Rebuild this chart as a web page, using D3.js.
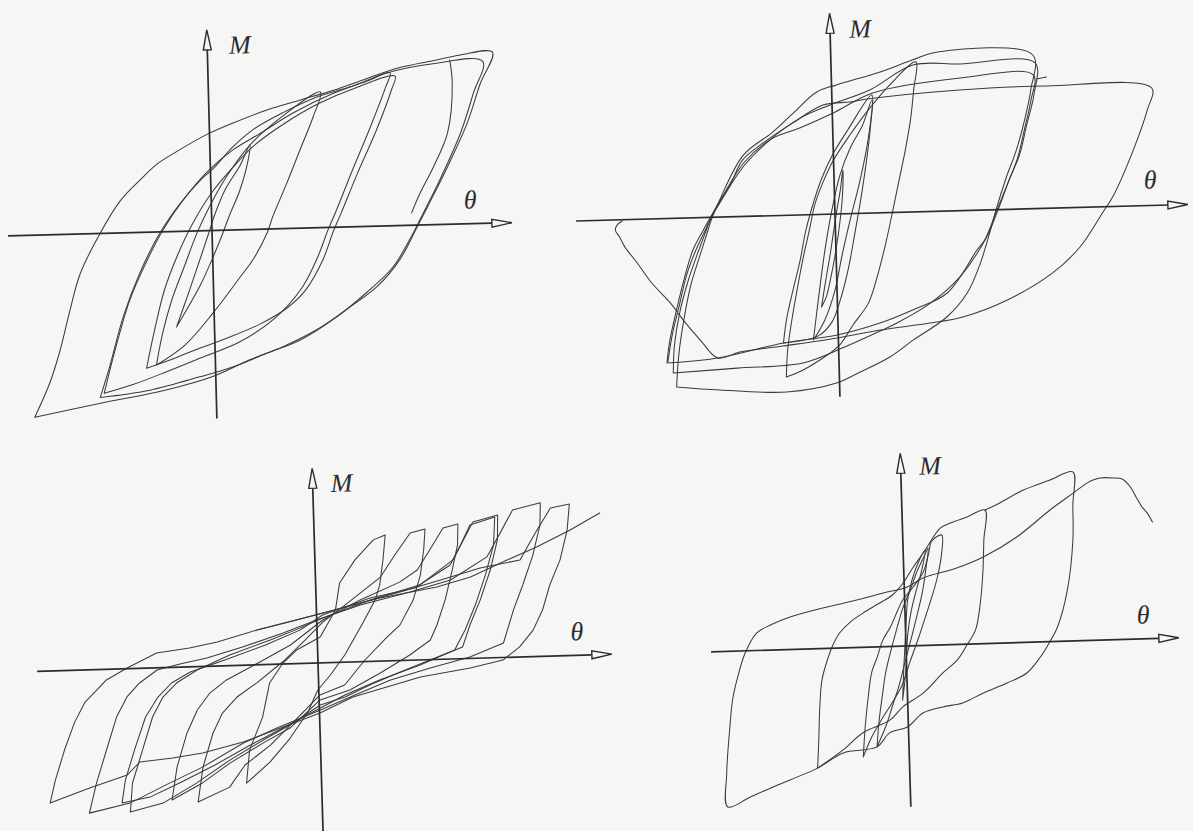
<!DOCTYPE html>
<html>
<head>
<meta charset="utf-8">
<script src="https://cdn.jsdelivr.net/npm/d3@7"></script>
<style>
  html, body { margin: 0; padding: 0; background: #f6f6f5; }
  svg { display: block; }
</style>
</head>
<body>
<svg id="chart" width="1193" height="831"></svg>
<script>
// Moment–rotation hysteresis records, four specimens.
// Each array is one loading branch or closed cycle: [theta, M] pairs.

// ---- Specimen 1 (upper left) ----
const s1CycleOuter = [[-18.2,-91],[-16.6,-74],[-15.5,-58],[-14.4,-38],[-13.3,-20],[-11.2,0],[-9.1,16],[-7.1,26],[-5.3,34],[-3.3,40],[-0.3,48],[2.4,53.5],[5.8,59.5],[9.1,64],[12.5,68.5],[15.9,74],[19.2,79],[22.5,82],[25.3,84.5],[28.5,85.5],[27.2,70],[25.8,50.5],[23.7,28.7],[21.6,9],[20.5,-1],[18.7,-17],[16.4,-30],[13.6,-40],[10.2,-51],[6.8,-59],[3.5,-65],[-0.3,-73],[-4.9,-79],[-11.7,-85],[-18.2,-91]];
const s1CycleB = [[-11.6,-82],[-10.6,-67],[-9.1,-42],[-7.3,-20],[-5.2,-0.5],[-3.1,14],[-1.1,25],[0.3,31],[2.3,41.5],[4.4,50],[7.4,58],[10.9,65.5],[14.2,70],[17.9,76.5],[22.5,80.5],[27.5,81],[26.5,65.5],[25.1,45.5],[22.9,22.3],[20.8,2.5],[20.1,-4],[18,-20.6],[15.3,-33],[11.9,-46],[8.5,-56],[5.2,-62],[1.7,-68.5],[-1.6,-73],[-6.6,-79],[-11.6,-82]];
const s1CycleC = [[-11.2,-80],[-10,-58.5],[-8.4,-33.7],[-6.8,-16.4],[-4.9,0.9],[-2.8,15.6],[-0.35,29.3],[2.3,40],[5.1,48],[8.4,57.7],[12.5,67],[15.9,72.7],[18.2,76.5],[17.7,69],[16.1,49.7],[14.2,28.4],[12.5,8.6],[11.6,-1.2],[10.5,-14.6],[8.9,-29.4],[6.1,-44.5],[2.5,-56],[-1.5,-63.6],[-4.9,-70],[-8.3,-76],[-11.2,-80]];
const s1CycleC2 = [[-6.9,-68],[-6,-49],[-4.9,-29],[-3.5,-11.8],[-2,3],[-0.1,17.8],[2.2,31],[4.5,42.2],[7.6,52.8],[11.1,62.3],[14.7,69.4],[18.7,74.8],[18.3,67.9],[16.7,48.1],[14.7,26.8],[13,7.5],[12.1,-2.3],[11,-16.2],[9.2,-31],[7.3,-39.7],[4.6,-47.3],[1.5,-53.5],[-1.5,-58.6],[-4,-63.2],[-6.9,-68]];
const s1CycleD = [[-5.9,-66.5],[-5.2,-50.6],[-4.2,-34.2],[-2.8,-16.9],[-1.5,-1],[-0.1,12.8],[1.7,27.5],[4,42.2],[7.1,55.3],[11.2,67.8],[10.4,55.4],[9,39.1],[7.6,22.7],[6.1,6],[5.5,-2],[4,-15.3],[2.7,-23.6],[-0.1,-41.2],[-3,-56.9],[-5.9,-66.5]];
const s1CycleE = [[-3.8,-47.8],[-2.4,-29.5],[-1.3,-14.6],[-0.4,-2.2],[0.3,7.7],[1.4,20.1],[3,32.4],[4,42.2],[3.8,34.8],[2.9,19.9],[1.8,7.5],[1,-2.4],[-0.1,-14.8],[-1.3,-27.1],[-3.8,-47.8]];
const s1Unload = [[24.2,82.2],[24.4,70.6],[23.8,45.7],[22.3,28.9],[20.9,16],[20,6.2]];

// ---- Specimen 2 (upper right) ----
const s2CycleA = [[-16.3,-84.3],[-16,-68.4],[-15.4,-51],[-14.6,-33.5],[-13.6,-18.7],[-12.9,-8.7],[-12.3,-0.3],[-11.5,8.5],[-9,30.7],[-6,41.8],[-3.9,51],[-1.5,61.2],[0.5,64.5],[4.9,70.4],[8.2,76],[10.7,79.6],[20.2,76.8],[19.9,59.3],[19.2,44.4],[18.3,29.5],[17.2,15.7],[16.1,-0.2],[15.5,-10.1],[14.4,-26.5],[13,-41.3],[10.9,-53],[7.5,-64],[5.1,-72.2],[2.1,-79.3],[-0.3,-84.5],[-5.3,-88.3],[-12,-86.4],[-16.3,-84.3]];
const s2CycleB = [[-16.6,-77.3],[-16.4,-63.3],[-15.8,-47.4],[-14.9,-32],[-13.9,-18.6],[-13.1,-8.7],[-12.4,-0.3],[-11,11],[-8.9,25.7],[-6.3,37.9],[-3.2,48.5],[-0.2,54.6],[3.8,61.5],[8.2,73.4],[12.9,73.3],[20.4,72.8],[20.2,56.8],[19.4,41.9],[18.6,27],[17.5,14.6],[16.3,-0.2],[15.1,-13.5],[12.3,-33.2],[9.3,-45.8],[5.9,-55.3],[4.2,-59.1],[0.6,-66.6],[-3.6,-74],[-10.2,-75.7],[-16.6,-77.3]];
const s2CycleC = [[-17.2,-72.2],[-16.9,-62.2],[-16.1,-45.8],[-15.2,-29.5],[-14.3,-16.1],[-13.2,-6.2],[-12.5,-0.3],[-11.3,9.5],[-8.9,27.2],[-6,38.8],[-3.3,43.5],[0.3,51],[4.1,60],[12.9,66.3],[20.2,66.8],[19.9,54.3],[19.2,40.4],[18.4,25.5],[17.4,13.6],[16.2,-0.2],[14.9,-15],[14.1,-19.9],[11,-41],[7.5,-49],[4.2,-55.1],[-0.1,-60.5],[-5.5,-63.8],[-12.1,-70.4],[-17.2,-72.2]];
const s2Notch = [[20.5,64.8],[21.5,65.6]];
const s2Final = [[-17.1,-71.7],[-16.6,-58.3],[-15.8,-43.4],[-15,-28.5],[-14,-16.1],[-13,-6.2],[-12.3,0.7],[-10.4,15.9],[-9.1,28.2],[-7,36.5],[-4,46],[-0.9,54.6],[1.8,55.8],[3.5,57],[12.8,60.3],[21.5,61.1],[32,58.7],[31.5,47.8],[30,28],[27.8,4.7],[26.8,-2.6],[24.4,-19.8],[21.6,-32.4],[17,-45.3],[12.5,-53.2],[9.2,-55.8],[4.2,-58.6],[-0.1,-62],[-5.6,-65.3],[-9.9,-67.7],[-12.1,-70.4],[-13.8,-61.2],[-15.3,-52],[-16.7,-42.2],[-18.5,-32],[-19.9,-21.8],[-21.1,-13.6],[-21.6,-8.6],[-22,-5],[-21.8,-2.5],[-21.3,-0.6]];
const s2CycleM = [[-5.3,-80.8],[-5.1,-67.3],[-4.6,-52.4],[-4,-37.5],[-3.3,-21.5],[-2.6,-7.6],[-2,4.8],[-1.1,16.2],[0,27],[1.7,39.3],[3.6,51.5],[5.8,63.7],[8.5,74.9],[8.2,61],[7.8,46],[7.2,31],[6.5,16.1],[5.8,1.2],[5,-15.2],[4.1,-31.1],[3.1,-45],[1.5,-55.7],[0.1,-65.6],[-1.9,-72.8],[-3.6,-77.5],[-5.3,-80.8]];
const s2CycleI1 = [[-5.5,-63.8],[-5.1,-51.3],[-4.4,-37.4],[-3.6,-22.5],[-3,-8.6],[-2.2,4.8],[-1.3,17.2],[-0.1,29.5],[1.5,41.8],[4,59],[3.8,44],[3.3,26.5],[2.6,6.6],[1.9,-10.7],[1.2,-27.2],[0.3,-43],[-0.6,-54],[-2,-60.7],[-5.5,-63.8]];
const s2CycleI2 = [[-2.5,-62.7],[-1.9,-42.7],[-1.1,-17.8],[-0.3,2],[0.6,19.4],[1.7,32.8],[3,44.1],[4,56.5],[3.5,36.5],[2.6,16.6],[1.5,-3.2],[0.6,-20.6],[-0.2,-38],[-1.3,-52.8],[-2.5,-62.7]];
const s2CycleI3 = [[-1.6,-46.3],[-1.1,-32.9],[-0.6,-20.4],[-0.2,-9],[0.2,2],[0.6,12],[0.9,21.9],[0.8,9.4],[0.5,-3.1],[0,-18],[-0.6,-32],[-1.1,-41.4],[-1.6,-46.3]];

// ---- Specimen 3 (lower left), pinched cycles ----
const s3Cycle1 = [[-27.2,-66],[-26.6,-54.6],[-25.6,-39.7],[-24.5,-25.9],[-23.4,-16],[-22.2,-10.2],[-21.2,-5.3],[-19.1,0.4],[-16.1,7.4],[-12.8,9.4],[-10,12],[-6,17.4],[-2,21.8],[0.65,24.9],[4.4,29.4],[8.4,34.2],[12.5,39.7],[16.5,45],[20.5,48.5],[22.1,61.7],[23.7,74],[25.6,75.7],[25.3,62.7],[24.5,47.9],[23.4,35.5],[22.6,23.1],[21.6,13.2],[20.2,5],[18.5,-1.3],[15.2,-4.8],[10.2,-8.5],[6.8,-13],[3.4,-17.5],[0.05,-25],[-4,-32],[-7.7,-38.4],[-11.8,-43.2],[-14.8,-45.3],[-18.1,-46.8],[-19.4,-53.1],[-23.2,-59.1],[-27.2,-66]];
const s3Cycle2 = [[-23.3,-71.6],[-22.5,-56.7],[-21.4,-40.3],[-20.3,-24],[-19.2,-14.1],[-17.9,-7.3],[-16.1,-1.1],[-13.8,1.6],[-11.1,4.2],[-7.5,9.1],[-3.4,15.5],[0,21.5],[4.4,28.4],[9.4,34.1],[13.5,39.5],[17.2,50.5],[18.6,62.3],[19.9,73.6],[22.7,76.7],[22.6,65.7],[21.8,50.7],[20.7,35.9],[19.7,23.6],[18.6,7.2],[15.2,0.7],[11.2,-4.2],[7.2,-9.6],[3.6,-16.5],[0.1,-23.5],[-4.3,-31.9],[-7.7,-38.9],[-11.8,-50.2],[-15.2,-57.8],[-19.2,-67.2],[-23.3,-71.6]];
const s3Cycle3 = [[-19.2,-71.7],[-18.9,-57.2],[-17.8,-40.9],[-16.7,-24.5],[-15.6,-14.7],[-14.2,-7.9],[-12.1,-1.7],[-8.8,5.3],[-4.7,12.2],[-1.7,17.7],[0.6,22.4],[5.4,30.7],[10.4,37.4],[13.8,49.5],[14.9,59.3],[15.9,68.2],[18.4,71.3],[18.3,58.8],[17.5,43.9],[16.4,29],[15.3,16.7],[14.5,5.8],[11.2,-0.2],[8.2,-5.7],[5.1,-11.8],[2.6,-17.4],[0.1,-21],[-3,-30.6],[-5.7,-37.7],[-9.1,-47.2],[-12.5,-58.2],[-15.9,-67.7],[-19.2,-71.7]];
const s3Cycle3b = [[-20,-67],[-19.6,-55.6],[-18.6,-40.7],[-17.4,-24.4],[-16.1,-14.6],[-14.7,-7.8],[-12.8,-2.6],[-9.3,2.9],[-5.2,9.8],[-1.7,16.7],[0.6,23.9],[5.4,31.7],[9.9,36],[13.5,47],[14.6,56.8],[15.6,66.7],[18.1,70.3],[17.9,56.4],[17,41.5],[15.9,26.6],[14.8,14.3],[13.7,4.4],[10.2,-2.5],[6.1,-9.4],[2.6,-16.4],[0.1,-22.5],[-3.5,-31.5],[-7,-40],[-10.6,-49.4],[-14.2,-57.9],[-17.2,-64.5],[-20,-67]];
const s3Cycle4 = [[-15,-66.3],[-14.4,-49.9],[-13.3,-33],[-12.2,-21.7],[-10.9,-13.4],[-9.2,-7.1],[-5.8,1.4],[-2.7,9.4],[0.6,21.4],[4.4,30.9],[8.4,39.2],[10.2,45],[11.5,54.8],[12.9,65.6],[14.4,67.4],[14.3,56.9],[13.7,44.5],[12.9,29.6],[12,17.2],[11.3,9.8],[9.2,2.6],[6.2,-5.9],[3.1,-14],[0.1,-18.5],[-3,-32.1],[-5.7,-39.1],[-9.1,-48.7],[-11.9,-58.2],[-15,-66.3]];
const s3Cycle5 = [[-12.4,-67.7],[-11.8,-50.2],[-10.7,-33.4],[-9.7,-23.6],[-8.2,-15.8],[-6.2,-9.1],[-3.3,2],[-1.2,11.7],[0.6,20.4],[2.9,28.6],[6.5,42],[8,52.8],[9.6,63.6],[11.1,65.4],[10.9,54.9],[10.5,42.5],[9.7,30],[8.3,17.7],[7,12],[4.7,0.8],[2.6,-11.4],[0.1,-16],[-2,-26.2],[-5,-40.3],[-7.6,-49.9],[-9.2,-60.7],[-12.4,-67.7]];
const s3Cycle6 = [[-7.5,-59],[-7.1,-42.5],[-5.7,-26.2],[-4.9,-9.3],[-3.5,0.5],[-2.1,6.8],[0.3,13],[1.9,26.2],[2.4,39.7],[4,51],[5.9,60.7],[7.1,63],[6.8,50.5],[6.4,38],[5.9,30.6],[4.6,19.3],[2.7,3.6],[1.2,-6.2],[-0.1,-13.5],[-1.15,-24.3],[-3,-37.1],[-5.1,-48.8],[-7.5,-59]];
const s3Final = [[-6,17.4],[0.65,24.9],[6.4,31.5],[12.1,36.2],[15.5,40.7],[19.2,48.6],[22.2,54.7],[25.6,62.7],[28.6,70.7]];

// ---- Specimen 4 (lower right) ----
const s4Final = [[8.3,66.8],[9.8,70.1],[12.2,76.2],[14.9,80.8],[17.2,84.5],[17.1,68],[17,50.5],[16.3,25.6],[15.2,7.2],[14.2,-1.6],[13.4,-7.5],[12,-15.3],[10,-20],[7.6,-24.6],[5.5,-29.3],[3.5,-31],[1.5,-33.7],[-0.1,-40.5],[-1.9,-43.2],[-3.2,-50],[-6.6,-52.5],[-9.2,-59.7],[-12,-65.2],[-13.7,-68.5],[-16,-73.1],[-18.3,-77.8],[-18.3,-60.8],[-17.8,-35.8],[-17.5,-24.4],[-17,-14.4],[-16.1,-1.1],[-14.9,8.7],[-13.5,12.5],[-11.5,16.2],[-8.2,20.2],[-4.8,23.7],[-2.1,26.8],[0.3,29.5],[1.9,33.7],[5.3,38.2],[8,43.3],[11.4,52.8],[14.8,65.8],[17.2,74],[18.6,78.8],[19.2,80.2],[19.9,81.1],[21.2,80.9],[22.1,80.2],[22.9,76.1],[23.5,70.5],[24,66],[24.5,62.9],[25,58.3]];
const s4Cycle2 = [[-9.2,-59.7],[-9,-45.7],[-8.8,-29.2],[-8.5,-15.7],[-7.9,-5.8],[-7.3,1.6],[-6.6,7.5],[-5.5,12.8],[-4.2,17.1],[-2.5,21.9],[-1.2,25.7],[-0.1,31.5],[0.9,38.9],[2,46.2],[3.8,58.5],[4.8,60.8],[6.5,63.6],[8.3,66.8],[8.1,51.8],[7.9,35.3],[7.5,18.4],[7,7],[6.1,-0.4],[5.1,-7.7],[3.6,-14],[1.6,-23.7],[-0.5,-30.4],[-1.8,-36.7],[-4.6,-42.8],[-6.6,-51],[-9.2,-59.7]];
const s4Cycle3 = [[-4.6,-54.8],[-4.3,-38.9],[-3.9,-23.9],[-3.5,-12.5],[-2.9,-5],[-2.3,3.3],[-1.5,9.7],[-0.8,17.1],[-0.2,23],[0.9,29.4],[1.9,36.2],[2.5,45.1],[2.9,52.1],[3.9,54.9],[3.8,44.5],[3.4,35],[2.9,26.6],[2.1,15.2],[1.2,2.8],[0.35,-8],[-0.5,-19.4],[-1.5,-27.8],[-2.5,-35.1],[-3.7,-45],[-4.6,-54.8]];
const s4Cycle4 = [[-3.2,-50],[-2.9,-36.6],[-2.5,-24.1],[-2.1,-12.7],[-1.5,-1.7],[-0.85,9.1],[-0.2,19],[0.6,27.9],[1.3,36.8],[2.1,44.7],[2.5,48.6],[2.2,37.7],[1.8,26.7],[1.2,15.3],[0.5,2.9],[-0.15,-8],[-0.8,-19.4],[-1.5,-29.3],[-2.2,-39.2],[-3.2,-50]];
const s4Cycle5 = [[-0.5,-27],[-0.3,-12],[-0.1,0.5],[0.1,13],[0.3,23],[0.8,32.9],[1.5,41.8],[2.2,47.7],[1.8,37.7],[1.2,27.8],[0.6,16.9],[0.2,5.4],[0,-7],[-0.2,-17],[-0.5,-27]];

// Axis labels
const labelMoment = "M";
const labelRotation = "θ";

// ---- layout ----
const W = 1193, H = 831;
const paper = "#f6f6f5";
const ink = "#3b3b3b";

// per-panel placement: origin in page pixels, slight tilt of the printed axes,
// extent of each arrowed axis in data units, label offsets in panel pixels
const panels = [
  { origin: [212, 230.5], tilt: -1.49, thetaExt: [-20.4, 30], momentExt: [-94, 100.3],
    curve: d3.curveCatmullRom.alpha(0.5), labelM: [32.8, -184.8], labelT: [258.8, -23.8],
    series: [s1CycleOuter, s1CycleB, s1CycleC, s1CycleC2, s1CycleD, s1CycleE, s1Unload] },
  { origin: [835, 214], tilt: -1.55, thetaExt: [-25.9, 35.3], momentExt: [-91.4, 100.4],
    curve: d3.curveCatmullRom.alpha(0.5), labelM: [30, -184.3], labelT: [315.9, -25.5],
    series: [s2CycleA, s2CycleB, s2CycleC, s2Notch, s2Final, s2CycleM, s2CycleI1, s2CycleI2, s2CycleI3] },
  { origin: [318, 663], tilt: -1.72, thetaExt: [-28.1, 29.4], momentExt: [-84, 97.4],
    curve: d3.curveLinear, labelM: [29.1, -179], labelT: [259.6, -23.5],
    series: [s3Cycle1, s3Cycle2, s3Cycle3, s3Cycle3b, s3Cycle4, s3Cycle5, s3Cycle6, s3Final] },
  { origin: [906, 646], tilt: -1.72, thetaExt: [-19.5, 27.3], momentExt: [-80.4, 96.4],
    curve: d3.curveCatmullRom.alpha(0.5), labelM: [29.4, -179.3], labelT: [237.9, -23.9],
    series: [s4Final, s4Cycle2, s4Cycle3, s4Cycle4, s4Cycle5] }
];

// common scales: 10 px per theta unit, 2 px per moment unit (relative to each panel origin)
const x = d3.scaleLinear().domain([0, 10]).range([0, 100]);
const y = d3.scaleLinear().domain([0, 50]).range([0, -100]);

const svg = d3.select("#chart");
svg.append("rect").attr("width", W).attr("height", H).attr("fill", paper);

const arrowLen = 20, arrowHalf = 4;

panels.forEach(p => {
  const g = svg.append("g")
    .attr("transform", `translate(${p.origin[0]},${p.origin[1]}) rotate(${p.tilt})`);

  const line = d3.line().x(d => x(d[0])).y(d => y(d[1])).curve(p.curve);

  g.append("g").selectAll("path")
    .data(p.series)
    .join("path")
    .attr("d", line)
    .attr("fill", "none")
    .attr("stroke", ink)
    .attr("stroke-width", 1.05)
    .attr("stroke-linejoin", "round")
    .attr("stroke-linecap", "round");

  const axes = g.append("g").attr("stroke", "#2c2c2c").attr("stroke-width", 1.7).attr("fill", paper);

  // theta axis
  const tx0 = x(p.thetaExt[0]), tx1 = x(p.thetaExt[1]), y0 = y(0);
  axes.append("line").attr("x1", tx0).attr("y1", y0).attr("x2", tx1 - arrowLen).attr("y2", y0);
  axes.append("path")
    .attr("d", `M${tx1},${y0} L${tx1 - arrowLen},${y0 - arrowHalf} L${tx1 - arrowLen},${y0 + arrowHalf} Z`)
    .attr("stroke-width", 1.4).attr("stroke-linejoin", "miter");

  // moment axis
  const x0 = x(0), my0 = y(p.momentExt[0]), my1 = y(p.momentExt[1]);
  axes.append("line").attr("x1", x0).attr("y1", my0).attr("x2", x0).attr("y2", my1 + arrowLen);
  axes.append("path")
    .attr("d", `M${x0},${my1} L${x0 - arrowHalf},${my1 + arrowLen} L${x0 + arrowHalf},${my1 + arrowLen} Z`)
    .attr("stroke-width", 1.4).attr("stroke-linejoin", "miter");

  const font = "italic 26px 'Liberation Serif', 'DejaVu Serif', serif";
  g.append("text")
    .attr("x", p.labelM[0]).attr("y", p.labelM[1])
    .attr("text-anchor", "middle").attr("dominant-baseline", "central")
    .attr("fill", "#2c2c2c").style("font", font)
    .text(labelMoment);
  g.append("text")
    .attr("x", p.labelT[0]).attr("y", p.labelT[1])
    .attr("text-anchor", "middle").attr("dominant-baseline", "central")
    .attr("fill", "#2c2c2c").style("font", font)
    .text(labelRotation);
});
</script>
</body>
</html>
